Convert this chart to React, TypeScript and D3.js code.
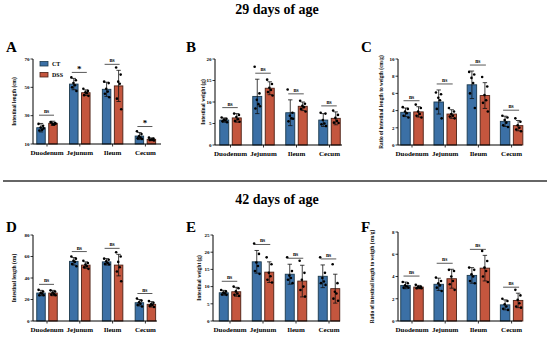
import React from 'react';
import * as d3 from 'd3';

const categories = ['Duodenum', 'Jejunum', 'Ileum', 'Cecum'];
const groups = ['CT', 'DSS'];
const titles = ['29 days of age', '42 days of age'];

// A - intestinal length, 29 d
const aCtMean = [21.5, 52.3, 48.6, 15.6];
const aDssMean = [24.6, 46.2, 51.0, 13.3];
const aCtSd = [3.0, 4.0, 5.0, 2.5];
const aDssSd = [1.5, 2.0, 11.0, 1.0];
const aCtPts = [[24.2, 22.8, 21.7, 20, 19.5, 21], [57, 55, 53, 51.5, 50, 47.5], [54, 53, 49, 47, 45.5, 43], [19, 17, 15.5, 14.5, 14, 13.6]];
const aDssPts = [[25.5, 24.8, 24, 23.8, 25.2, 24.3], [49, 47.5, 46.5, 45.8, 44.5, 44], [64, 59, 54, 52.5, 42, 34.5], [14.5, 13.8, 13.2, 13, 12.8, 12.5]];
const aSig = ['ns', '*', 'ns', '*'];

// B - intestinal weight, 29 d
const bCtMean = [5.8, 11.3, 7.5, 5.8];
const bDssMean = [6.3, 13.2, 9.0, 6.2];
const bCtSd = [0.5, 4.0, 3.0, 1.5];
const bDssSd = [1.0, 1.5, 1.0, 1.5];
const bCtPts = [[6.4, 6.1, 5.9, 5.7, 5.5, 5.3], [18.2, 12, 10.5, 9.5, 8.5, 9], [12.9, 7.5, 6.8, 6.2, 5.5, 6.1], [7.5, 7.3, 5.8, 5, 4.8, 4.4]];
const bDssPts = [[7.3, 7.0, 6.5, 6.0, 5.6, 5.4], [15.2, 14.2, 13.3, 12.8, 12.3, 11.5], [10.3, 9.6, 9.1, 8.8, 8.4, 7.8], [8, 7, 6.3, 5.6, 5.2, 5.1]];
const bSig = ['ns', 'ns', 'ns', 'ns'];

// C - ratio, 29 d
const cCtMean = [3.8, 5.0, 7.0, 2.75];
const cDssMean = [3.85, 3.6, 5.75, 2.25];
const cCtSd = [0.5, 1.4, 1.6, 0.6];
const cDssSd = [0.6, 0.5, 1.5, 0.6];
const cCtPts = [[4.4, 4.2, 3.9, 3.7, 3.4, 3.2], [6.1, 5.9, 5.5, 5.2, 4.2, 3.1], [8.5, 8.2, 7.8, 7.2, 6.0, 4.3], [3.4, 3.2, 2.9, 2.6, 2.3, 2.1]];
const cDssPts = [[4.7, 4.3, 3.9, 3.6, 3.4, 3.2], [4.3, 3.9, 3.6, 3.4, 3.3, 3.1], [7.9, 6.8, 5.8, 5.2, 4.9, 3.9], [3.1, 2.7, 2.3, 2.0, 1.8, 1.6]];
const cSig = ['ns', 'ns', 'ns', 'ns'];

// D - intestinal length, 42 d
const dCtMean = [26, 55.5, 55, 17];
const dDssMean = [26, 52, 52, 15.5];
const dCtSd = [2.5, 3.5, 3.0, 3.0];
const dDssSd = [2.5, 3.0, 10.0, 2.5];
const dCtPts = [[29, 27.5, 26, 25.5, 24, 24], [60, 58, 56, 55, 53, 51], [58, 57, 55.5, 54, 53, 52.5], [21, 19, 17.5, 16, 15, 13.5]];
const dDssPts = [[28.5, 27.5, 26.5, 25, 24.5, 24], [56, 54, 52.5, 51, 50, 48.5], [64, 60, 55, 50, 46, 37], [18.5, 17, 15.5, 15, 14, 13]];
const dSig = ['ns', 'ns', 'ns', 'ns'];

// E - intestinal weight, 42 d
const eCtMean = [8.2, 17.2, 13.6, 13.0];
const eDssMean = [8.5, 14.2, 11.6, 9.4];
const eCtSd = [0.7, 3.3, 2.9, 3.3];
const eDssSd = [1.3, 3.0, 4.6, 4.2];
const eCtPts = [[9, 8.6, 8.3, 8.0, 7.7, 7.6], [22.5, 19.5, 17, 16, 14.5, 13.7], [18.5, 14.5, 13.2, 12.5, 12, 11], [18.5, 14, 12.5, 11.5, 11, 10.5]];
const eDssPts = [[10, 9.5, 8.6, 8.0, 7.6, 7.3], [18.5, 16.5, 14, 13, 12, 11.2], [17.5, 14, 12, 10, 9, 7.1], [16.5, 11, 8.5, 8, 6.5, 5.9]];
const eSig = ['ns', 'ns', 'ns', 'ns'];

// F - ratio, 42 d
const fCtMean = [3.2, 3.3, 4.1, 1.45];
const fDssMean = [3.05, 3.8, 4.75, 1.85];
const fCtSd = [0.3, 0.55, 0.7, 0.45];
const fDssSd = [0.15, 0.85, 1.15, 0.65];
const fCtPts = [[3.5, 3.4, 3.2, 3.1, 3.0, 3.0], [3.9, 3.6, 3.4, 3.2, 3.0, 2.7], [4.8, 4.6, 4.2, 4.0, 3.6, 3.4], [2.0, 1.8, 1.5, 1.3, 1.1, 1.0]];
const fDssPts = [[3.25, 3.1, 3.05, 3.0, 2.95, 2.95], [4.6, 4.5, 4.0, 3.6, 3.3, 2.8], [6.3, 5.4, 4.8, 4.5, 4.0, 3.5], [2.8, 2.3, 1.9, 1.6, 1.3, 1.2]];
const fSig = ['ns', 'ns', 'ns', 'ns'];

const lengthLabel = 'Intestinal length (cm)';
const weightLabel = 'Intestinal weight (g)';
const ratioLabel = 'Ratio of intestinal length to weigth (cm/g)';

const SERIF = "'Liberation Serif', 'Times New Roman', serif";
const FILL = { CT: '#3b70a6', DSS: '#c4563e' };
const STROKE = { CT: '#1c3a4e', DSS: '#4a2015' };
const JITTER = [-2.6, 2.2, -0.4, 1.2, -1.8, 2.8];

const panels = [
  { letter: 'A', label: lengthLabel, domain: [10, 70], ticks: [10, 30, 50, 70], mean: [aCtMean, aDssMean], sd: [aCtSd, aDssSd], pts: [aCtPts, aDssPts], sig: aSig,
    left: 33, right: 161, top: 59, bottom: 144, band: [30.6, 161.8], barW: 8.5, labelX: 16, lx: 6, ly: 52, legend: true },
  { letter: 'B', label: weightLabel, domain: [0, 20], ticks: [0, 5, 10, 15, 20], mean: [bCtMean, bDssMean], sd: [bCtSd, bDssSd], pts: [bCtPts, bDssPts], sig: bSig,
    left: 215, right: 342, top: 59, bottom: 145, band: [214, 346], barW: 9, labelX: 205, lx: 186, ly: 52 },
  { letter: 'C', label: ratioLabel, domain: [0, 10], ticks: [0, 2, 4, 6, 8, 10], mean: [cCtMean, cDssMean], sd: [cCtSd, cDssSd], pts: [cCtPts, cDssPts], sig: cSig,
    left: 398, right: 522, top: 59, bottom: 145, band: [395.4, 528.2], barW: 9.5, labelX: 383, lx: 361, ly: 52 },
  { letter: 'D', label: lengthLabel, domain: [0, 80], ticks: [0, 20, 40, 60, 80], mean: [dCtMean, dDssMean], sd: [dCtSd, dDssSd], pts: [dCtPts, dDssPts], sig: dSig,
    left: 33, right: 157, top: 235, bottom: 321, band: [30.6, 161.8], barW: 8.5, labelX: 16, lx: 6, ly: 232 },
  { letter: 'E', label: weightLabel, domain: [0, 25], ticks: [0, 5, 10, 15, 20, 25], mean: [eCtMean, eDssMean], sd: [eCtSd, eDssSd], pts: [eCtPts, eDssPts], sig: eSig,
    left: 213, right: 340, top: 235, bottom: 321, band: [213.5, 345.5], barW: 9, labelX: 201, lx: 186, ly: 232 },
  { letter: 'F', label: ratioLabel, domain: [0, 8], ticks: [0, 2, 4, 6, 8], mean: [fCtMean, fDssMean], sd: [fCtSd, fDssSd], pts: [fCtPts, fDssPts], sig: fSig,
    left: 398, right: 522, top: 232, bottom: 321, band: [395.4, 528.2], barW: 9.5, labelX: 374, lx: 361, ly: 232 },
];

function Panel({ p }: { p: any }) {
  const y = d3.scaleLinear().domain(p.domain).range([p.bottom, p.top]);
  const x = d3.scaleBand().domain(categories).range(p.band).padding(0);
  const gap = 3.5;
  const sub = d3.scalePoint().domain(groups).range([-(p.barW + gap) / 2, (p.barW + gap) / 2]);
  const cx = (c: string) => (x(c) as number) + x.bandwidth() / 2;
  const w = p.barW;

  return (
    <g>
      <text x={p.lx} y={p.ly} fontSize={15} fontWeight="bold" fontFamily={SERIF}>{p.letter}</text>
      <text transform={`translate(${p.labelX},${(p.top + p.bottom) / 2}) rotate(-90)`} textAnchor="middle"
        fontSize={5.3} fontWeight="bold" fontFamily={SERIF}>{p.label}</text>

      {groups.map((g, gi) => categories.map((c, ci) => {
        const m = p.mean[gi][ci];
        const s = p.sd[gi][ci];
        const bx = cx(c) + (sub(g) as number);
        return (
          <g key={g + c}>
            <rect x={bx - w / 2} y={y(m)} width={w} height={y(p.domain[0]) - y(m)}
              fill={(FILL as any)[g]} stroke={(STROKE as any)[g]} strokeWidth={0.9} />
            <line x1={bx} x2={bx} y1={y(m - s)} y2={y(m + s)} stroke="#111" strokeWidth={0.8} />
            <line x1={bx - 2.2} x2={bx + 2.2} y1={y(m + s)} y2={y(m + s)} stroke="#111" strokeWidth={0.8} />
            <line x1={bx - 2.2} x2={bx + 2.2} y1={y(m - s)} y2={y(m - s)} stroke="#111" strokeWidth={0.8} />
            {p.pts[gi][ci].map((v: number, k: number) => (
              <circle key={k} cx={bx + JITTER[k % JITTER.length] * (w / 9)} cy={y(v)} r={1.3} fill="#000" />
            ))}
          </g>
        );
      }))}

      {categories.map((c, ci) => {
        const tops = [0, 1].map(gi => p.mean[gi][ci] + p.sd[gi][ci]);
        const ly = y(Math.max(...tops)) - 6;
        const x1 = cx(c) + (sub('CT') as number) - 2;
        const x2 = cx(c) + (sub('DSS') as number) + 1;
        const star = p.sig[ci] === '*';
        return (
          <g key={'s' + c}>
            <line x1={x1} x2={x2} y1={ly} y2={ly} stroke="#111" strokeWidth={0.7} />
            <text x={(x1 + x2) / 2} y={star ? ly - 0.5 : ly - 2} textAnchor="middle" fontSize={star ? 9 : 5.5}
              fontWeight="bold" fontFamily={SERIF}>{p.sig[ci]}</text>
          </g>
        );
      })}

      <line x1={p.left} x2={p.left} y1={p.top} y2={p.bottom} stroke="#000" strokeWidth={1} />
      {p.ticks.map((t: number) => (
        <g key={t}>
          <line x1={p.left - 2.5} x2={p.left} y1={y(t)} y2={y(t)} stroke="#000" strokeWidth={0.8} />
          <text x={p.left - 3.5} y={y(t) + 1.8} textAnchor="end" fontSize={5} fontWeight="bold" fontFamily={SERIF}>{t}</text>
        </g>
      ))}
      <line x1={p.left} x2={p.right} y1={p.bottom} y2={p.bottom} stroke="#000" strokeWidth={1} />
      {categories.map(c => (
        <g key={'x' + c}>
          <line x1={cx(c)} x2={cx(c)} y1={p.bottom} y2={p.bottom + 2.5} stroke="#000" strokeWidth={0.8} />
          <text x={cx(c)} y={p.bottom + 11} textAnchor="middle" fontSize={7} fontWeight="bold" fontFamily={SERIF}>{c}</text>
        </g>
      ))}

      {p.legend && groups.map((g, gi) => (
        <g key={'l' + g}>
          <rect x={40} y={p.top + 2.5 + gi * 11} width={8} height={4.5} fill={(FILL as any)[g]} stroke={(STROKE as any)[g]} strokeWidth={0.8} />
          <text x={52} y={p.top + 7 + gi * 11} fontSize={6} fontWeight="bold" fontFamily={SERIF}>{g}</text>
        </g>
      ))}
    </g>
  );
}

export default function App() {
  return (
    <svg width={550} height={339} style={{ position: 'absolute', left: 0, top: 0, background: '#fff' }}>
      <rect width={550} height={339} fill="#fff" />
      <text x={277} y={14} textAnchor="middle" fontSize={14} fontWeight="bold" fontFamily={SERIF}>{titles[0]}</text>
      <line x1={3} x2={547} y1={181} y2={181} stroke="#333" strokeWidth={1.5} />
      <text x={277} y={204} textAnchor="middle" fontSize={14} fontWeight="bold" fontFamily={SERIF}>{titles[1]}</text>
      {panels.map(p => <Panel key={p.letter} p={p} />)}
    </svg>
  );
}
